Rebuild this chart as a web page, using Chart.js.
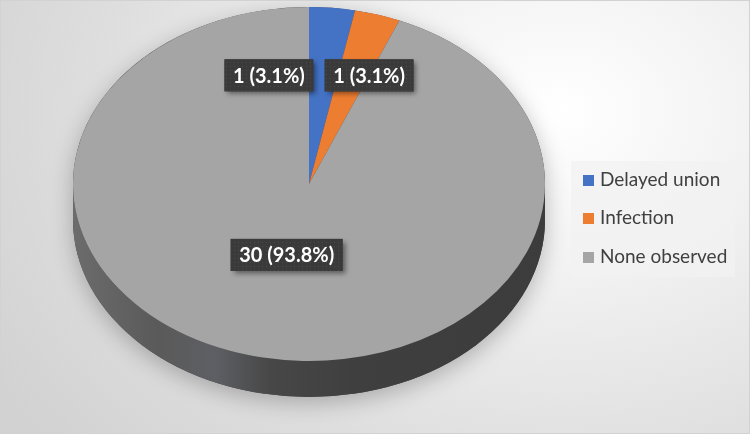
<!DOCTYPE html>
<html>
<head>
<meta charset="utf-8">
<script src="https://cdn.jsdelivr.net/npm/chart.js@4.4.1/dist/chart.umd.min.js"></script>
<style>
    html, body { margin: 0; padding: 0; }
    body { width: 750px; height: 434px; overflow: hidden; }
    #wrap {
        position: relative; width: 750px; height: 434px; box-sizing: border-box;
        border: 1px solid #d2d2d2;
        background: radial-gradient(ellipse 660px 520px at 560px 110px, #ffffff 0%, #f2f2f2 30%, #dedede 70%, #d2d2d2 100%);
    }
    #pieChart { position: absolute; left: 0; top: 0; }
    #legend {
        position: absolute; left: 570px; top: 160px; width: 164px; height: 116px;
        background: rgba(242, 242, 242, 0.75);
        font-family: Lato, sans-serif; font-size: 19px; color: #404040;
    }
    .item { position: absolute; left: 12px; height: 22px; line-height: 22px; white-space: nowrap; }
    .swatch { display: inline-block; width: 11px; height: 11px; margin-right: 6px; vertical-align: 0px; }
</style>
</head>
<body>
<div id="wrap">
    <canvas id="pieChart" width="750" height="434"></canvas>
    <div id="legend"></div>
</div>
<script>
    // Data
    const categories = ["Delayed union", "Infection", "None observed"];
    const counts = [1, 1, 30];
    const sliceColors = ["#4472c4", "#ed7d31", "#a5a5a5"];

    // 3D look + label placement
    const tilt = 0.75;
    const depth = 36;
    const labelRadius = [0.6, 0.6, 0.42];
    const labelNudge = [[-54, -3], [19, -7], [-3, -2]];

    const total = counts.reduce((a, b) => a + b, 0);

    // dotted fill for the label boxes
    const dotCanvas = document.createElement("canvas");
    dotCanvas.width = 4; dotCanvas.height = 4;
    const dctx = dotCanvas.getContext("2d");
    dctx.fillStyle = "#3a3a3a"; dctx.fillRect(0, 0, 4, 4);
    dctx.fillStyle = "#4b4b4b"; dctx.fillRect(1, 1, 1, 1);

    const pie3d = {
        id: "pie3d",
        beforeDatasetsDraw(chart) {
            const arc = chart.getDatasetMeta(0).data[0];
            const cx = arc.x, cy = arc.y, rx = arc.outerRadius, ry = rx * tilt;
            const ctx = chart.ctx;

            // soft shadow under the whole pie
            ctx.save();
            ctx.beginPath();
            ctx.ellipse(cx, cy, rx, ry, 0, Math.PI, 0);
            ctx.lineTo(cx + rx, cy + depth);
            ctx.ellipse(cx, cy + depth, rx, ry, 0, 0, Math.PI);
            ctx.closePath();
            ctx.shadowColor = "rgba(0,0,0,0.25)";
            ctx.shadowBlur = 22;
            ctx.shadowOffsetY = 6;
            ctx.fillStyle = "#444";
            ctx.fill();
            ctx.restore();

            // side wall
            ctx.save();
            const g = ctx.createLinearGradient(cx - rx, 0, cx + rx, 0);
            g.addColorStop(0, "#6c6c6c");
            g.addColorStop(0.18, "#5a5a5a");
            g.addColorStop(0.3, "#5e5f64");
            g.addColorStop(0.42, "#474747");
            g.addColorStop(0.6, "#3f3f3f");
            g.addColorStop(1, "#3c3c3c");
            ctx.beginPath();
            ctx.ellipse(cx, cy, rx, ry, 0, 0, Math.PI);
            ctx.lineTo(cx - rx, cy + depth);
            ctx.ellipse(cx, cy + depth, rx, ry, 0, Math.PI, 0, true);
            ctx.closePath();
            ctx.fillStyle = g;
            ctx.fill();
            ctx.restore();

            // squash the top face into an ellipse
            ctx.save();
            ctx.translate(0, cy);
            ctx.scale(1, tilt);
            ctx.translate(0, -cy);
        },
        afterDatasetsDraw(chart) {
            const ctx = chart.ctx;
            ctx.restore();

            const meta = chart.getDatasetMeta(0);
            const pattern = ctx.createPattern(dotCanvas, "repeat");
            ctx.font = "bold 20px Lato";
            meta.data.forEach((a, i) => {
                const mid = (a.startAngle + a.endAngle) / 2;
                const r = a.outerRadius * labelRadius[i];
                const x = a.x + r * Math.cos(mid) + labelNudge[i][0];
                const y = a.y + r * Math.sin(mid) * tilt + labelNudge[i][1];
                const v = counts[i];
                const text = `${v} (${(v / total * 100).toFixed(1)}%)`;
                const w = ctx.measureText(text).width + 17;
                const h = 32;

                ctx.save();
                ctx.shadowColor = "rgba(0,0,0,0.45)";
                ctx.shadowBlur = 5;
                ctx.shadowOffsetX = 3;
                ctx.shadowOffsetY = 3;
                ctx.fillStyle = "#3a3a3a";
                ctx.fillRect(x - w / 2, y - h / 2, w, h);
                ctx.restore();

                ctx.fillStyle = pattern;
                ctx.fillRect(x - w / 2, y - h / 2, w, h);
                ctx.fillStyle = "#ffffff";
                ctx.textAlign = "center";
                ctx.textBaseline = "middle";
                ctx.fillText(text, x, y + 1);
            });
        }
    };

    const ctx = document.getElementById("pieChart").getContext("2d");
    const pieChart = new Chart(ctx, {
        type: "pie",
        data: {
            labels: categories,
            datasets: [{
                data: counts,
                backgroundColor: sliceColors,
                borderWidth: 0,
                radius: 236
            }]
        },
        options: {
            responsive: false,
            animation: false,
            events: [],
            layout: { padding: { left: 0, right: 134, top: 0, bottom: 68 } },
            plugins: {
                legend: { display: false },
                tooltip: { enabled: false }
            }
        },
        plugins: [pie3d]
    });

    // Legend
    const legend = document.getElementById("legend");
    const rowTops = [7, 45, 84];
    categories.forEach((name, i) => {
        const item = document.createElement("div");
        item.className = "item";
        item.style.top = rowTops[i] + "px";
        item.innerHTML = `<span class="swatch" style="background:${sliceColors[i]}"></span>${name}`;
        legend.appendChild(item);
    });
</script>
</body>
</html>
